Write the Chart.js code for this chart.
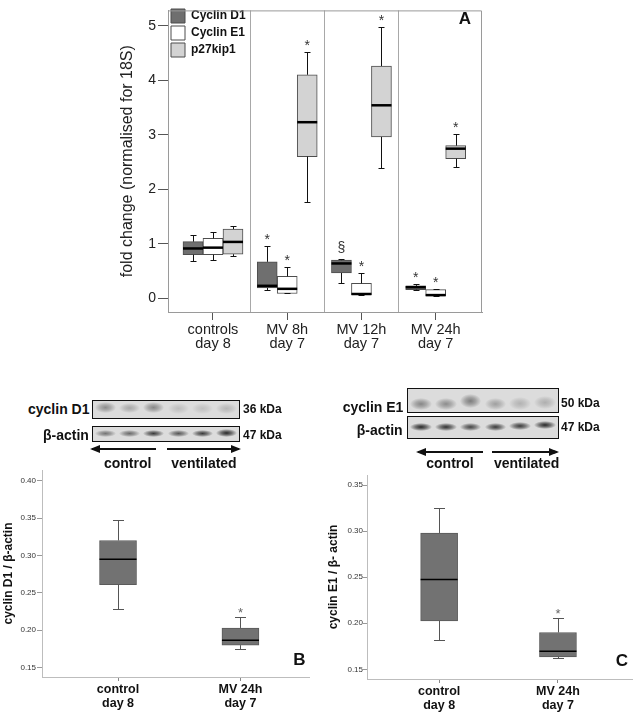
<!DOCTYPE html>
<html>
<head>
<meta charset="utf-8">
<script src="https://cdn.jsdelivr.net/npm/chart.js@4.4.1/dist/chart.umd.min.js"></script>
<style>
  body { margin: 0; background: #fff; }
  #page { position: relative; width: 634px; height: 713px; overflow: hidden; font-family: Arial, "Liberation Sans", sans-serif; }
  canvas { position: absolute; }
  .lbl { position: absolute; font-weight: bold; white-space: nowrap; color: #111; }
  .blot { position: absolute; border: 1.5px solid #111; box-sizing: border-box; background: #dcdcdc; overflow: hidden; }
  .band { position: absolute; border-radius: 50%; }
  .shaft { position: absolute; height: 2px; background: #111; }
  .head { position: absolute; width: 0; height: 0; border-top: 4px solid transparent; border-bottom: 4px solid transparent; }
</style>
</head>
<body>
<div id="page">
  <canvas id="chartA" width="390" height="365" style="left:100px;top:0"></canvas>
  <canvas id="chartB" width="320" height="253" style="left:0;top:460px"></canvas>
  <canvas id="chartC" width="314" height="253" style="left:320px;top:460px"></canvas>
</div>
<script>
// ---- panel A: mRNA fold change ----
const groupsA = [['controls', 'day 8'], ['MV 8h', 'day 7'], ['MV 12h', 'day 7'], ['MV 24h', 'day 7']]
const seriesA = ['Cyclin D1', 'Cyclin E1', 'p27kip1']
const ticksA = [0, 1, 2, 3, 4, 5]

const d1Min = [0.68, 0.16, 0.28, 0.15]
const d1Q1 = [0.80, 0.19, 0.465, 0.16]
const d1Med = [0.915, 0.23, 0.64, 0.205]
const d1Q3 = [1.04, 0.67, 0.70, 0.23]
const d1Max = [1.155, 0.96, 0.73, 0.27]
const d1Mark = ['', '*', '§', '*']

const e1Min = [0.71, 0.09, 0.054, 0.04]
const e1Q1 = [0.80, 0.09, 0.066, 0.045]
const e1Med = [0.93, 0.175, 0.08, 0.06]
const e1Q3 = [1.10, 0.405, 0.275, 0.16]
const e1Max = [1.22, 0.58, 0.465, 0.18]
const e1Mark = ['', '*', '*', '*']

const p27Min = [0.77, 1.76, 2.39, 2.40]
const p27Q1 = [0.81, 2.60, 2.96, 2.56]
const p27Med = [1.035, 3.23, 3.54, 2.745]
const p27Q3 = [1.27, 4.10, 4.26, 2.80]
const p27Max = [1.32, 4.52, 4.98, 3.01]
const p27Mark = ['', '*', '*', '*']

// ---- panel B: cyclin D1 western blot ----
const groupsB = [['control', 'day 8'], ['MV 24h', 'day 7']]
const ticksB = [0.15, 0.20, 0.25, 0.30, 0.35, 0.40]
const bMin = [0.229, 0.1755]
const bQ1 = [0.261, 0.18]
const bMed = [0.295, 0.1865]
const bQ3 = [0.32, 0.203]
const bMax = [0.347, 0.217]
const bMark = ['', '*']

// ---- panel C: cyclin E1 western blot ----
const groupsC = [['control', 'day 8'], ['MV 24h', 'day 7']]
const ticksC = [0.15, 0.20, 0.25, 0.30, 0.35]
const cMin = [0.1815, 0.1623]
const cQ1 = [0.2025, 0.1634]
const cMed = [0.2475, 0.1695]
const cQ3 = [0.298, 0.190]
const cMax = [0.3253, 0.2062]
const cMark = ['', '*']

const FONT = 'Arial, "Liberation Sans", sans-serif'
Chart.defaults.font.family = FONT
Chart.defaults.color = '#222'

// whiskers, caps, medians and significance marks on top of the floating bars
const boxPlot = {
  id: 'boxPlot',
  afterDatasetsDraw(chart, args, opts) {
    const ctx = chart.ctx
    const y = chart.scales.y
    chart.data.datasets.forEach((ds, i) => {
      const st = ds.stats
      chart.getDatasetMeta(i).data.forEach((bar, j) => {
        const x = Math.round(bar.x) + 0.5
        const yMax = Math.round(y.getPixelForValue(st.max[j])) + 0.5
        const yMin = Math.round(y.getPixelForValue(st.min[j])) + 0.5
        const yQ1 = y.getPixelForValue(st.q1[j])
        const yQ3 = y.getPixelForValue(st.q3[j])
        const yMed = y.getPixelForValue(st.med[j])
        const half = opts.capWidth / 2
        ctx.save()
        ctx.strokeStyle = opts.whiskerColor
        ctx.lineWidth = 1
        ctx.beginPath()
        ctx.moveTo(x, yQ3); ctx.lineTo(x, yMax)
        ctx.moveTo(x - half, yMax); ctx.lineTo(x + half, yMax)
        ctx.moveTo(x, yQ1); ctx.lineTo(x, yMin)
        ctx.moveTo(x - half, yMin); ctx.lineTo(x + half, yMin)
        ctx.stroke()
        ctx.strokeStyle = '#000'
        ctx.lineWidth = opts.medianWidth
        ctx.beginPath()
        ctx.moveTo(bar.x - bar.width / 2, yMed); ctx.lineTo(bar.x + bar.width / 2, yMed)
        ctx.stroke()
        const mark = st.mark[j]
        if (mark) {
          ctx.fillStyle = opts.markColor
          ctx.font = opts.markFont
          ctx.textAlign = 'center'
          ctx.textBaseline = 'alphabetic'
          const lift = mark === '§' ? opts.markGap + opts.sectionLift : opts.markGap
          ctx.fillText(mark, bar.x, yMax - lift)
        }
        ctx.restore()
      })
    })
  }
}

// top and right edges of the boxed frame in panel A
const frame = {
  id: 'frame',
  beforeDatasetsDraw(chart) {
    const {ctx, chartArea} = chart
    ctx.save()
    ctx.strokeStyle = '#9a9a9a'
    ctx.lineWidth = 1
    ctx.beginPath()
    ctx.moveTo(chartArea.left, chartArea.top + 0.5)
    ctx.lineTo(chartArea.right - 0.5, chartArea.top + 0.5)
    ctx.lineTo(chartArea.right - 0.5, chartArea.bottom)
    ctx.stroke()
    ctx.restore()
  }
}

const statsA = [
  {min: d1Min, q1: d1Q1, med: d1Med, q3: d1Q3, max: d1Max, mark: d1Mark},
  {min: e1Min, q1: e1Q1, med: e1Med, q3: e1Q3, max: e1Max, mark: e1Mark},
  {min: p27Min, q1: p27Q1, med: p27Med, q3: p27Q3, max: p27Max, mark: p27Mark}
]
const fillsA = ['#6f6f6f', '#ffffff', '#d3d3d3']

new Chart(document.querySelector('#chartA'), {
  type: 'bar',
  data: {
    datasets: seriesA.map((name, i) => ({
      label: name,
      data: groupsA.map((g, j) => ({x: j, y: [statsA[i].q1[j], statsA[i].q3[j]]})),
      stats: statsA[i],
      backgroundColor: fillsA[i],
      borderColor: '#4d4d4d',
      borderWidth: 1,
      borderSkipped: false,
      barThickness: 20
    }))
  },
  options: {
    responsive: false,
    devicePixelRatio: 1,
    animation: false,
    layout: { padding: { top: 3, right: 8, left: 0, bottom: 0 } },
    scales: {
      x: {
        type: 'linear',
        min: -0.606,
        max: 3.624,
        offset: false,
        afterBuildTicks: (scale) => { scale.ticks = [0, 0.5, 1, 1.5, 2, 2.5, 3].map(v => ({value: v})) },
        afterFit: (scale) => { scale.height = 53 },
        ticks: {
          autoSkip: false,
          maxRotation: 0,
          padding: 3,
          color: '#222',
          font: { size: 14.5, lineHeight: 0.97 },
          callback: (v) => Number.isInteger(v) ? groupsA[v] : ''
        },
        grid: {
          offset: false,
          tickLength: 8,
          color: (c) => c.tick && !Number.isInteger(c.tick.value) ? '#a8a8a8' : 'rgba(0,0,0,0)',
          tickColor: (c) => c.tick && Number.isInteger(c.tick.value) ? '#555' : 'rgba(0,0,0,0)'
        },
        border: { color: '#9a9a9a' }
      },
      y: {
        min: -0.25,
        max: 5.28,
        beginAtZero: false,
        afterBuildTicks: (scale) => { scale.ticks = ticksA.map(v => ({value: v})) },
        afterFit: (scale) => { scale.width = 68 },
        ticks: { padding: 2, color: '#222', font: { size: 14 } },
        grid: { drawOnChartArea: false, tickLength: 10, tickColor: '#555' },
        border: { color: '#9a9a9a' },
        title: {
          display: true,
          text: 'fold change (normalised for 18S)',
          color: '#222',
          font: { size: 16 },
          padding: { top: 18, bottom: 0 }
        }
      }
    },
    plugins: {
      legend: {
        position: 'chartArea',
        align: 'start',
        title: { display: true, text: '', font: { size: 5 }, padding: 0 },
        labels: {
          boxWidth: 14,
          boxHeight: 14,
          padding: 3,
          color: '#111',
          font: { size: 12, weight: 'bold' }
        }
      },
      tooltip: { enabled: false },
      boxPlot: { capWidth: 6, whiskerColor: '#111', medianWidth: 2.5, markFont: '14px ' + FONT, markColor: '#333', markGap: 2.5, sectionLift: 5.5 }
    }
  },
  plugins: [frame, boxPlot]
})

// panels B and C share one layout, only the numbers differ
const blotChart = (canvasId, groups, ticks, stats, yTitle, layout) => {
  new Chart(document.querySelector(canvasId), {
    type: 'bar',
    data: {
      datasets: [{
        label: yTitle,
        data: groups.map((g, j) => ({x: j, y: [stats.q1[j], stats.q3[j]]})),
        stats: stats,
        backgroundColor: '#727272',
        borderColor: '#5a5a5a',
        borderWidth: 1,
        borderSkipped: false,
        barThickness: 37
      }]
    },
    options: {
      responsive: false,
      devicePixelRatio: 1,
      animation: false,
      layout: { padding: { top: layout.top, right: layout.right, left: 0, bottom: 0 } },
      scales: {
        x: {
          type: 'linear',
          min: layout.xMin,
          max: layout.xMax,
          offset: false,
          afterBuildTicks: (scale) => { scale.ticks = groups.map((g, j) => ({value: j})) },
          afterFit: (scale) => { scale.height = layout.xHeight },
          ticks: {
            autoSkip: false,
            maxRotation: 0,
            padding: 2,
            color: '#111',
            font: { size: 12.5, weight: 'bold', lineHeight: 1.1 },
            callback: (v) => groups[v]
          },
          grid: { offset: false, drawOnChartArea: false, tickLength: 4, tickColor: '#888' },
          border: { color: '#bdbdbd' }
        },
        y: {
          min: layout.yMin,
          max: layout.yMax,
          beginAtZero: false,
          afterBuildTicks: (scale) => { scale.ticks = ticks.map(v => ({value: v})) },
          afterFit: (scale) => { scale.width = layout.yWidth },
          ticks: { padding: layout.tickPad, color: '#333', font: { size: 8 }, callback: (v) => v.toFixed(2) },
          grid: { drawOnChartArea: false, tickLength: layout.tickLen, tickColor: '#999' },
          border: { color: '#bdbdbd' },
          title: {
            display: true,
            text: yTitle,
            color: '#111',
            font: { size: 12, weight: 'bold' },
            padding: { top: layout.titlePad, bottom: 0 }
          }
        }
      },
      plugins: {
        legend: { display: false },
        tooltip: { enabled: false },
        boxPlot: { capWidth: 11, whiskerColor: '#555', medianWidth: 1.5, markFont: '13px ' + FONT, markColor: '#666', markGap: 0.5, sectionLift: 5 }
      }
    },
    plugins: [boxPlot]
  })
}

blotChart('#chartB', groupsB, ticksB,
  {min: bMin, q1: bQ1, med: bMed, q3: bQ3, max: bMax, mark: bMark},
  'cyclin D1 / β-actin',
  {top: 10, right: 11, xMin: -0.621, xMax: 1.56, xHeight: 36, yMin: 0.1374, yMax: 0.4143, yWidth: 42, tickPad: 1, tickLen: 5, titlePad: 1})

blotChart('#chartC', groupsC, ticksC,
  {min: cMin, q1: cQ1, med: cMed, q3: cQ3, max: cMax, mark: cMark},
  'cyclin E1 / β- actin',
  {top: 15, right: 2, xMin: -0.607, xMax: 1.623, xHeight: 34, yMin: 0.1395, yMax: 0.3609, yWidth: 47, tickPad: 0, tickLen: 4, titlePad: 6})

// ---- blot pictures, arrows and plain labels ----
const page = document.querySelector('#page')

const addText = (text, x, cy, size, align) => {
  const el = document.createElement('div')
  el.className = 'lbl'
  el.textContent = text
  el.style.fontSize = size + 'px'
  el.style.lineHeight = '20px'
  el.style.top = (cy - 10) + 'px'
  if (align === 'center') {
    el.style.left = (x - 60) + 'px'
    el.style.width = '120px'
    el.style.textAlign = 'center'
  } else {
    el.style.left = x + 'px'
  }
  page.appendChild(el)
}

const addBlot = (left, top, width, height, bands) => {
  const el = document.createElement('div')
  el.className = 'blot'
  el.style.cssText = `left:${left}px;top:${top}px;width:${width}px;height:${height}px;`
  const lane = (width - 3) / bands.length
  bands.forEach(([dy, h, shade], k) => {
    const b = document.createElement('div')
    b.className = 'band'
    b.style.cssText = `left:${k * lane + 2}px;top:${dy}px;width:${lane - 3}px;height:${h}px;` +
      `background:radial-gradient(ellipse at center, rgba(30,30,30,${shade}) 0%, rgba(30,30,30,${shade * 0.6}) 35%, rgba(30,30,30,0) 72%);`
    el.appendChild(b)
  })
  page.appendChild(el)
}

const addArrow = (x1, x2, y, dir) => {
  const shaft = document.createElement('div')
  shaft.className = 'shaft'
  shaft.style.cssText = `left:${x1}px;top:${y - 1}px;width:${x2 - x1}px;`
  page.appendChild(shaft)
  const head = document.createElement('div')
  head.className = 'head'
  if (dir < 0) head.style.cssText = `left:${x1 - 2}px;top:${y - 4}px;border-right:10px solid #111;`
  else head.style.cssText = `left:${x2 - 8}px;top:${y - 4}px;border-left:10px solid #111;`
  page.appendChild(head)
}

// panel B blots
addBlot(92, 400, 148, 19, [[1, 11, 0.42], [2, 10, 0.28], [1, 11, 0.45], [2, 11, 0.16], [2, 11, 0.15], [2, 11, 0.2]])
addBlot(92, 426, 148, 16, [[3, 7, 0.55], [3, 7, 0.6], [3, 7, 0.85], [3, 7, 0.7], [3, 7, 0.85], [2, 8, 0.95]])
addText('cyclin D1', 28, 409, 14)
addText('β-actin', 43, 435, 14)
addText('36 kDa', 243, 409, 12)
addText('47 kDa', 243, 435, 12)
addArrow(92, 156, 449, -1)
addArrow(167, 239, 449, 1)
addText('control', 127.7, 463, 14, 'center')
addText('ventilated', 204, 463, 14, 'center')

// panel C blots
addBlot(407, 388, 152, 25, [[9, 12, 0.45], [9, 12, 0.42], [5, 14, 0.5], [9, 12, 0.32], [8, 13, 0.22], [7, 13, 0.24]])
addBlot(407, 416, 152, 23, [[6, 8, 0.95], [6, 8, 0.9], [6, 8, 0.8], [6, 8, 0.85], [5, 8, 0.85], [4, 8, 0.95]])
addText('cyclin E1', 342.7, 406.5, 14)
addText('β-actin', 356.7, 430, 14)
addText('50 kDa', 561, 402.5, 12)
addText('47 kDa', 561, 426.5, 12)
addArrow(418, 483, 451.5, -1)
addArrow(492, 557, 451.5, 1)
addText('control', 450, 462.5, 14, 'center')
addText('ventilated', 526.7, 462.5, 14, 'center')

// panel letters
addText('A', 465, 18.5, 17, 'center')
addText('B', 299.5, 660, 17, 'center')
addText('C', 622, 661, 17, 'center')
</script>
</body>
</html>
